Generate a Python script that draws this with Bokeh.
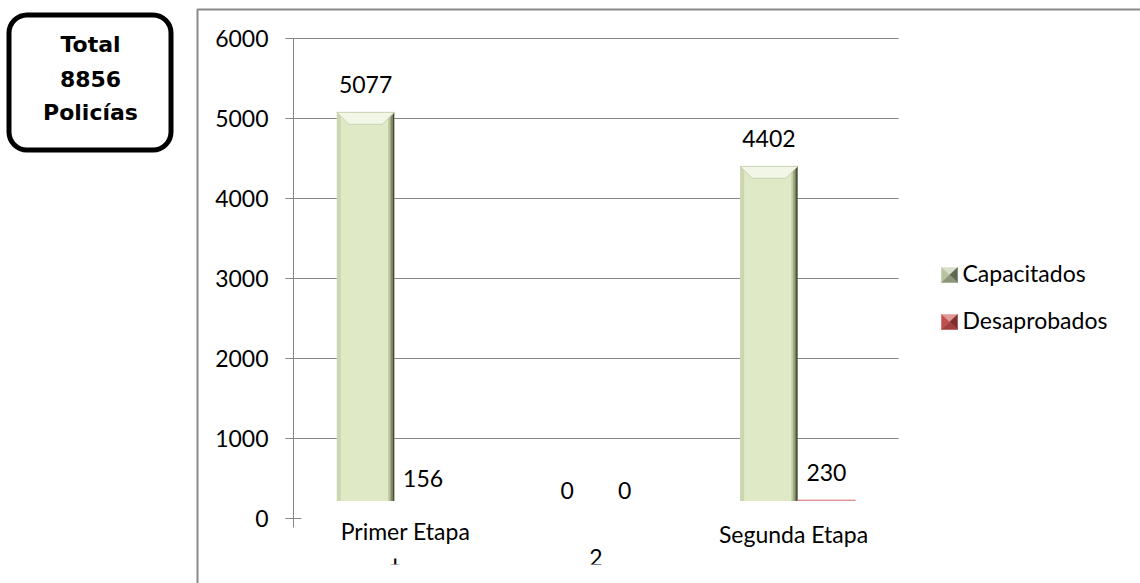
from bokeh.plotting import figure
from bokeh.models import Range1d, FixedTicker, BoxAnnotation, Label, PolyAnnotation, LinearAxis, Grid
from bokeh.core.properties import value
from bokeh.embed import file_html
from bokeh.resources import INLINE
import numpy as np

# ---------------- data ----------------
categories = ["1", "2", "3"]
stage_labels = ["Primer Etapa", "Segunda Etapa"]
capacitados = [5077, 0, 4402]
desaprobados = [156, 0, 230]
y_ticks = [0, 1000, 2000, 3000, 4000, 5000, 6000]
total_lines = ["Total", "8856", "Policías"]
legend_names = ["Capacitados", "Desaprobados"]

# ---------------- layout (pixel geometry of the plotting area) ----------------
W, H = 1140, 583
AX_L, AX_R, AX_T, AX_B = 293, 898, 38, 518   # where x=-0.5 / 2.5 and y=6000 / 0 fall
X0, X1 = -0.5, 2.5
Y0, Y1 = 0, 6000
PX_X = (AX_R - AX_L) / (X1 - X0)              # px per x unit
PX_Y = (AX_B - AX_T) / (Y1 - Y0)              # px per y unit
UX, UY = 1 / PX_X, 1 / PX_Y
TXT_SHIFT = 9                                  # baseline correction for labels (px)

def dx(px):
    return X0 + (px - AX_L) * UX

def dy(py):
    return Y0 + (AX_B - py) * UY

FONT = "Lato"
FS = "23px"
GRAY = "#878787"

p = figure(width=W, height=H, output_backend="svg", toolbar_location=None,
           x_range=Range1d(dx(0), dx(W)), y_range=Range1d(dy(H), dy(0)),
           x_axis_location=None, y_axis_location=None,
           min_border=0, background_fill_color="white", border_fill_color="white")
p.outline_line_color = None
for g in p.center:
    if isinstance(g, Grid):
        g.visible = False

# grid lines
p.segment(x0=[X0] * len(y_ticks), x1=[X1] * len(y_ticks), y0=y_ticks, y1=y_ticks,
          line_color=GRAY, line_width=1, level="underlay")

# y axis
yax = LinearAxis(fixed_location=X0, bounds=(Y0, Y1),
                 ticker=FixedTicker(ticks=y_ticks, minor_ticks=[]))
yax.axis_line_color = GRAY
yax.major_tick_line_color = GRAY
yax.major_tick_in = 8
yax.major_tick_out = 8
yax.major_label_standoff = 17
yax.major_label_text_font = FONT
yax.major_label_text_font_size = FS
yax.major_label_text_color = "black"
p.add_layout(yax, "left")

# x axis
xi = np.arange(len(categories))
xax = LinearAxis(fixed_location=Y0, bounds=(X0, X1),
                 ticker=FixedTicker(ticks=list(xi), minor_ticks=[-0.5, 0.5, 1.5, 2.5]))
xax.major_label_overrides = {int(i): c for i, c in zip(xi, categories)}
xax.axis_line_color = GRAY
xax.major_tick_in = 0
xax.major_tick_out = 0
xax.minor_tick_in = 0
xax.minor_tick_out = 9
xax.minor_tick_line_color = GRAY
xax.major_label_standoff = 21
xax.major_label_text_font = FONT
xax.major_label_text_font_size = FS
xax.major_label_text_color = "black"
p.add_layout(xax, "below")

# ---------------- bars ----------------
bar_w = 57.5 * UX
bev = 12  # bevel size in px
series = [
    (capacitados, xi - bar_w / 2,
     dict(main="#dfe9c6", left="#ccd7b2", top="#f1f6e6", topedge="#c9d3b3",
          right=["#c3cea6", "#a1ac84", "#737c5c", "#454b36"])),
    (desaprobados, xi + bar_w / 2,
     dict(main="#c0504d", left="#a94643", top="#e6a9a7", topedge="#d98c8a",
          right=["#b04a47", "#94403d", "#723230", "#4f2322"])),
]
for vals, xc, col in series:
    vals = np.array(vals, dtype=float)
    p.vbar(x=xc, top=vals, bottom=0, width=bar_w, fill_color=col["main"], line_color=None)
    p.vbar(x=xc - bar_w / 2 + 2 * UX, top=vals, bottom=0, width=4 * UX,
           fill_color=col["left"], line_color=None)
    for k, c in enumerate(col["right"]):
        p.vbar(x=xc + bar_w / 2 - (len(col["right"]) - k - 0.5) * 1.6 * UX, top=vals, bottom=0,
               width=1.6 * UX, fill_color=c, line_color=None)
    # top bevel (trapezoid)
    xs, ys = [], []
    for x, v in zip(xc, vals):
        l, r = x - bar_w / 2, x + bar_w / 2
        xs.append([l, r, r - bev * UX, l + bev * UX])
        ys.append([v, v, v - bev * UY, v - bev * UY])
    p.patches(xs=xs, ys=ys, fill_color=col["top"], line_color=col["topedge"], line_width=1)
    p.text(x=xc, y=vals, text=[str(int(v)) for v in vals], y_offset=-28,
           text_align="center", text_baseline="alphabetic",
           text_font=value(FONT), text_font_size=FS, text_color="black", level="overlay")

# ---------------- white boxes over the bottom of the chart ----------------
p.add_layout(BoxAnnotation(left=dx(301), right=dx(915), top=dy(500.5), bottom=dy(546),
                           fill_color="white", fill_alpha=1, line_alpha=0, level="annotation"))
p.add_layout(BoxAnnotation(left=dx(301), right=dx(915), top=dy(564), bottom=dy(700),
                           fill_color="white", fill_alpha=1, line_alpha=0, level="annotation"))

# stage labels written over the category axis
stage_px = [411, 802]
stage_pad = [(2, 14, 6, 14), (2, 20, 18, 20)]
for name, px, pad in zip(stage_labels, stage_px, stage_pad):
    p.add_layout(Label(x=dx(px), y=dy(543 - TXT_SHIFT), text=name, text_align="center",
                       text_baseline="alphabetic", text_font=FONT, text_font_size=FS,
                       text_color="black", background_fill_color="white",
                       background_fill_alpha=1.0, padding=pad, level="overlay"))

# ---------------- outer chart border ----------------
p.add_layout(BoxAnnotation(left=dx(197), right=dx(1300), top=dy(9), bottom=dy(800),
                           fill_alpha=0, line_color="#8a8a8a", line_alpha=1, line_width=2,
                           level="annotation"))

# ---------------- total box ----------------
p.add_layout(BoxAnnotation(left=dx(8.5), right=dx(170.5), top=dy(14.5), bottom=dy(149.5),
                           fill_color="white", fill_alpha=1, line_color="black", line_alpha=1,
                           line_width=5, border_radius=18, level="annotation"))
for txt, base in zip(total_lines, [53, 87, 121]):
    p.add_layout(Label(x=dx(90), y=dy(base - TXT_SHIFT), text=txt, text_align="center",
                       text_baseline="alphabetic", text_font="DejaVu Sans",
                       text_font_style="bold", text_font_size="22px", text_color="black",
                       level="overlay"))

# ---------------- legend ----------------
leg_colors = [
    ("#d9dfca", "#b7c2a0", "#5f6850", "#8c957a"),   # top, left, right, bottom
    ("#e39896", "#c0504d", "#7d2f2d", "#a13f3c"),
]
leg_y = [267, 314]
for name, (ct, cl, cr, cb), y0 in zip(legend_names, leg_colors, leg_y):
    x0, x1, y1 = 941, 957, y0 + 15
    xm, ym = (x0 + x1) / 2, (y0 + y1) / 2
    tris = [
        ([x0, x1, xm], [y0, y0, ym], ct),
        ([x0, xm, x0], [y0, ym, y1], cl),
        ([x1, x1, xm], [y0, y1, ym], cr),
        ([x0, x1, xm], [y1, y1, ym], cb),
    ]
    for xs_, ys_, c in tris:
        p.add_layout(PolyAnnotation(xs=[dx(v) for v in xs_], ys=[dy(v) for v in ys_],
                                    fill_color=c, fill_alpha=1, line_color=c, line_alpha=1,
                                    line_width=0.5, level="annotation"))
    p.add_layout(Label(x=dx(962), y=dy(y0 + 14 - TXT_SHIFT), text=name, text_align="left",
                       text_baseline="alphabetic", text_font=FONT, text_font_size=FS,
                       text_color="black", level="overlay"))

open("out.html", "w").write(file_html(p, INLINE))
